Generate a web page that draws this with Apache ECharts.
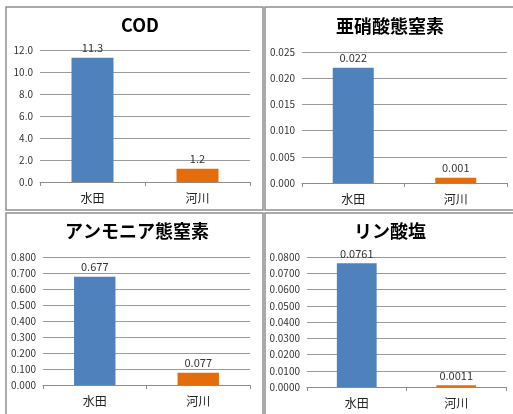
<!DOCTYPE html>
<html>
<head>
<meta charset="utf-8">
<script src="https://cdn.jsdelivr.net/npm/echarts@6/dist/echarts.min.js"></script>
<style>html,body{margin:0;padding:0;background:#fff}#c{width:513px;height:414px}</style>
</head>
<body>
<div id="c"></div>
<script>
const categories = ['水田', '河川'];
const chartTitles = ['COD', '亜硝酸態窒素', 'アンモニア態窒素', 'リン酸塩'];
const codValues = [11.3, 1.2];
const nitriteValues = [0.022, 0.001];
const ammoniaValues = [0.677, 0.077];
const phosphateValues = [0.0761, 0.0011];
const axisMax = [12, 0.025, 0.8, 0.08];
const axisInterval = [2, 0.005, 0.1, 0.01];
const labelDecimals = [1, 3, 3, 4];
const tickDecimals = [1, 3, 3, 4];

const seriesValues = [codValues, nitriteValues, ammoniaValues, phosphateValues];
const grids = [
  {left: 40, top: 50, width: 210, height: 132},
  {left: 302, top: 52, width: 205, height: 131},
  {left: 43, top: 257, width: 207, height: 128},
  {left: 307, top: 257, width: 199, height: 130}
];
const titlePos = [[140, 16], [390, 17], [137, 222], [390, 222]];
const panels = [[6, 7, 257, 203], [265, 7, 252, 203], [6, 213, 257, 205], [265, 213, 252, 205]];
const colors = ['#4F81BD', '#E46C0A'];
const font = "'Noto Sans CJK JP', 'Liberation Sans', sans-serif";

const chart = echarts.init(document.getElementById('c'));
chart.setOption({
  animation: false,
  textStyle: {fontFamily: font},
  graphic: panels.map(p => ({
    type: 'rect', shape: {x: p[0], y: p[1], width: p[2], height: p[3]},
    style: {fill: 'none', stroke: '#8f8f8f', lineWidth: 1.5}, silent: true, z: 0
  })),
  title: chartTitles.map((t, i) => ({
    text: t, left: titlePos[i][0], top: titlePos[i][1], textAlign: 'center', padding: 0,
    textStyle: {fontSize: 18, fontWeight: 'bold', color: '#000', fontFamily: font}
  })),
  grid: grids,
  xAxis: grids.map((g, i) => ({
    type: 'category', gridIndex: i, data: categories,
    axisLine: {lineStyle: {color: '#8c8c8c', width: 1}},
    axisTick: {show: true, length: 4, lineStyle: {color: '#8c8c8c'}},
    axisLabel: {fontSize: 12, color: '#222', margin: 10}
  })),
  yAxis: grids.map((g, i) => ({
    type: 'value', gridIndex: i, min: 0, max: axisMax[i], interval: axisInterval[i],
    axisLine: {show: false}, axisTick: {show: false},
    splitLine: {lineStyle: {color: '#9a9a9a', width: 1}},
    axisLabel: {fontSize: 10, color: '#333', margin: 7,
      formatter: v => v.toFixed(tickDecimals[i])}
  })),
  series: seriesValues.map((vals, i) => ({
    type: 'bar', xAxisIndex: i, yAxisIndex: i, barWidth: '40%',
    data: vals.map((v, j) => ({value: v, itemStyle: {color: colors[j]}})),
    label: {show: true, position: 'top', fontSize: 11, color: '#333', distance: 4,
      formatter: p => p.value.toFixed(labelDecimals[i])}
  }))
});
</script>
</body>
</html>
